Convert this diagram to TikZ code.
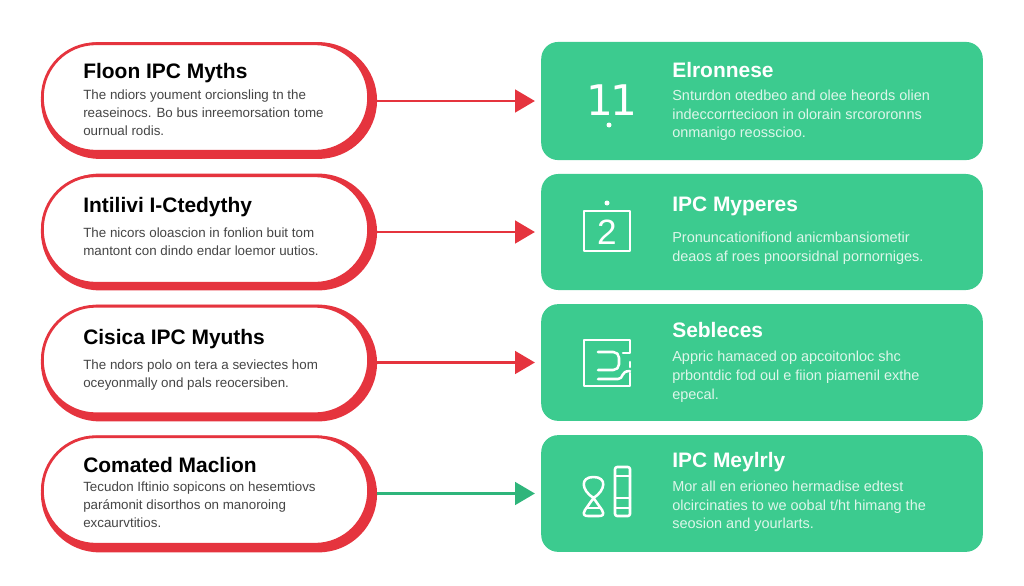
\documentclass[tikz,border=0pt]{standalone}
\usepackage{fontspec}
\setmainfont{Liberation Sans}
\newfontfamily\iconfont{DejaVu Sans}
\usetikzlibrary{arrows.meta}

\definecolor{mythred}{HTML}{E5343E}
\definecolor{factgreen}{HTML}{3CCB8F}
\definecolor{linkgreen}{HTML}{2FB57B}
\definecolor{bodygray}{HTML}{454545}
\definecolor{cardtext}{HTML}{DDF6EA}

\tikzset{
    pill/.style={draw=mythred, line width=2pt, fill=white, rounded corners=38pt,
        minimum width=232pt, minimum height=76.5pt, inner sep=0pt},
    pillshadow/.style={fill=mythred, rounded corners=41.5pt,
        minimum width=239pt, minimum height=83pt, inner sep=0pt},
    card/.style={fill=factgreen, rounded corners=12pt, minimum width=314pt, inner sep=0pt},
    mythtitle/.style={anchor=west, font=\fontsize{14.9}{17}\selectfont\bfseries, text=black, inner sep=0pt},
    mythbody/.style={anchor=north west, align=left, text=bodygray, inner sep=0pt,
        font=\fontsize{9.5}{12.7}\selectfont},
    cardtitle/.style={anchor=west, font=\fontsize{14.9}{17}\selectfont\bfseries, text=white, inner sep=0pt},
    cardbody/.style={anchor=north west, align=left, text=cardtext, inner sep=0pt,
        font=\fontsize{10.3}{13.4}\selectfont},
    flow/.style={-{Triangle[length=14pt,width=16pt]}, line width=1.8pt, draw=mythred, shorten >=4.3pt},
    icon/.style={draw=white, line width=1.8pt, line cap=round, line join=round},
}

\begin{document}
\begin{tikzpicture}[x=0.025cm, y=-0.025cm]
\useasboundingbox (0,0) rectangle (1024,585);

% Left column
\node[pillshadow] (shadow1) at (209,100.5) {};
\node[pill] (pill1) at (205.5,97.5) {};
\node[pillshadow] (shadow2) at (209,232) {};
\node[pill] (pill2) at (205.5,229.5) {};
\node[pillshadow] (shadow3) at (209,363) {};
\node[pill] (pill3) at (205.5,360) {};
\node[pillshadow] (shadow4) at (209,494) {};
\node[pill] (pill4) at (205.5,490.5) {};

\node[mythtitle] (mtitle1) at (83,73) {Floon IPC Myths};
\node[mythbody] (mbody1) at (83,90) {The ndiors youment orcionsling tn the\\reaseinocs. Bo bus inreemorsation tome\\ournual rodis.};
\node[mythtitle] (mtitle2) at (83,207) {Intilivi I-Ctedythy};
\node[mythbody] (mbody2) at (83,227.5) {The nicors oloascion in fonlion buit tom\\mantont con dindo endar loemor uutios.};
\node[mythtitle] (mtitle3) at (83,339) {Cisica IPC Myuths};
\node[mythbody] (mbody3) at (83,359.5) {The ndors polo on tera a seviectes hom\\oceyonmally ond pals reocersiben.};
\node[mythtitle] (mtitle4) at (83,465) {Comated Maclion};
\node[mythbody] (mbody4) at (83,481.5) {Tecudon Iftinio sopicons on hesemtiovs\\parámonit disorthos on manoroing\\excaurvtitios.};

% Right column
\node[card, minimum height=84pt] (card1) at (762,101) {};
\node[card, minimum height=82.5pt] (card2) at (762,232) {};
\node[card, minimum height=83pt] (card3) at (762,362.5) {};
\node[card, minimum height=83pt] (card4) at (762,493.5) {};

\node[cardtitle] (ctitle1) at (672,70) {Elronnese};
\node[cardbody] (cbody1) at (672,89.5) {Snturdon otedbeo and olee heords olien\\indeccorrtecioon in olorain srcororonns\\onmanigo reosscioo.};
\node[cardtitle] (ctitle2) at (672,206) {IPC Myperes};
\node[cardbody] (cbody2) at (672,232) {Pronuncationifiond anicmbansiometir\\deaos af roes pnoorsidnal pornorniges.};
\node[cardtitle] (ctitle3) at (672,330) {Sebleces};
\node[cardbody] (cbody3) at (672,351) {Appric hamaced op apcoitonloc shc\\prbontdic fod oul e fiion piamenil exthe\\epecal.};
\node[cardtitle] (ctitle4) at (672,462) {IPC Meylrly};
\node[cardbody] (cbody4) at (672,480.5) {Mor all en erioneo hermadise edtest\\olcircinaties to we oobal t/ht himang the\\seosion and yourlarts.};

% Connectors
\draw[flow] (shadow1.east |- card1) -- (card1);
\draw[flow] (shadow2.east |- card2) -- (card2);
\draw[flow] (shadow3.east |- card3) -- (card3);
\draw[flow, draw=linkgreen] (shadow4.east |- card4) -- (card4);

% Icon 1
\node[text=white, inner sep=0pt, font=\iconfont\fontsize{30}{30}\selectfont] (num1) at (612,100) {1\kern-2.5pt 1};
\fill[white] (609,125) circle (2.5);

% Icon 2
\node[icon, minimum width=33pt, minimum height=28.5pt, inner sep=0pt] (frame2) at (607,231) {};
\node[text=white, inner sep=0pt, font=\fontsize{25}{25}\selectfont] (num2) at (607,232) {2};
\fill[white] (607,203) circle (2.5);

% Icon 3
\draw[icon] (623,353) -- (630,353) -- (630,340) -- (584,340) -- (584,386) -- (630,386) -- (630,373);
\draw[icon] (630,362) -- (630,367);
\draw[icon, rounded corners=4pt] (598,352) -- (619,352) -- (619,370) -- (598,370);
\draw[icon] (598,379) -- (618,379) .. controls (624,379) and (620,371) .. (630,371);

% Icon 4
\draw[icon] (593.5,477) .. controls (580,477) and (581,490) .. (593.5,498) .. controls (606,490) and (607,477) .. (593.5,477);
\draw[icon] (593.5,498) -- (585,510) .. controls (582,515) and (585,516) .. (588,516) -- (599,516) .. controls (602,516) and (605,515) .. (602,510) -- cycle;
\draw[icon] (587,508) -- (600,508);
\draw[icon, rounded corners=1.5pt] (615,467) rectangle (630,516);
\draw[icon] (615,476) -- (630,476);
\draw[icon] (615,498) -- (630,498);
\draw[icon] (615,508) -- (630,508);

\end{tikzpicture}
\end{document}
